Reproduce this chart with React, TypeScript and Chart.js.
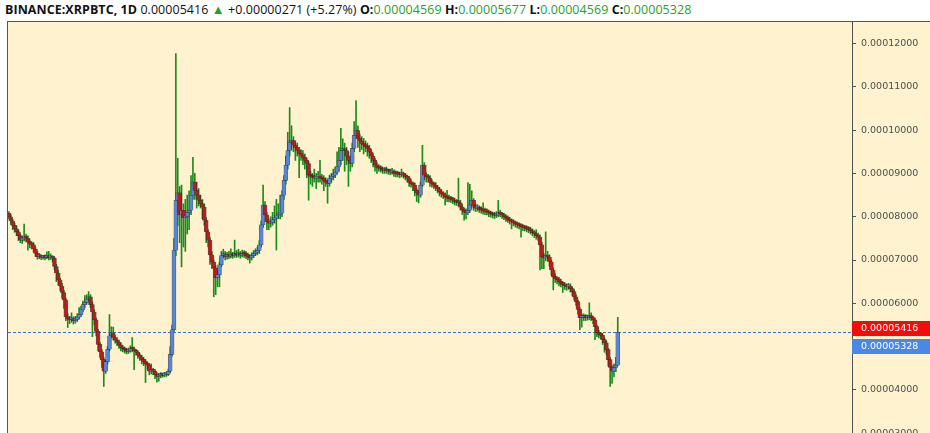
import React, { useEffect, useRef } from "react";
import { Chart, registerables } from "chart.js";

Chart.register(...registerables);

// Daily XRP/BTC candles, values in satoshi (1e-8 BTC)
const firstOpen = 8080;
const closes = [
  8000, 7900, 7800, 7720, 7650, 7560, 7460, 7480, 7530, 7500,
  7420, 7380, 7350, 7250, 7150, 7080, 7090, 7060, 7070, 7060,
  7080, 7050, 7060, 7040, 6850, 6700, 6540, 6400, 6250, 6080,
  5690, 5640, 5620, 5650, 5600, 5620, 5680, 5740, 5850, 5970,
  6020, 6100, 6150, 5970, 5800, 5620, 5350, 5050, 4880, 4700,
  4430, 4650, 4940, 5250, 5320, 5210, 5150, 5100, 5040, 4980,
  4950, 4920, 4890, 4900, 4950, 4940, 4900, 4870, 4800, 4760,
  4700, 4660, 4600, 4570, 4430, 4450, 4430, 4360, 4310, 4330,
  4350, 4340, 4360, 4360, 4430, 4820, 5390, 7230, 8380, 8550,
  8040, 8150, 7980, 8000, 8100, 8150, 8500, 8800, 8610, 8500,
  8380, 8300, 8220, 7920, 7650, 7460, 7120, 6950, 6820, 6590,
  6660, 6890, 7100, 7120, 7080, 7110, 7090, 7130, 7100, 7150,
  7120, 7140, 7110, 7150, 7130, 7100, 7080, 7050, 7100, 7150,
  7180, 7220, 7350, 7810, 8270, 8040, 7880, 7850, 7860, 7930,
  7970, 8040, 8060, 8080, 8500, 8840, 9190, 9530, 9720, 9760,
  9650, 9600, 9530, 9460, 9420, 9370, 9300, 9230, 8960, 8930,
  8910, 8890, 8920, 8940, 8890, 8870, 8840, 8800, 8770, 8890,
  8930, 8960, 9030, 9150, 9300, 9530, 9550, 9530, 9400, 9300,
  9230, 9580, 9880, 9990, 9810, 9750, 9690, 9650, 9620, 9580,
  9490, 9400, 9300, 9200, 9140, 9120, 9100, 9070, 9080, 9060,
  9050, 9030, 9040, 9000, 8990, 8980, 8970, 8980, 8960, 8920,
  8890, 8790, 8760, 8730, 8610, 8550, 8500, 8730, 9190, 8960,
  8920, 8890, 8790, 8760, 8730, 8680, 8640, 8570, 8530, 8500,
  8450, 8430, 8410, 8400, 8380, 8340, 8330, 8320, 8220, 8160,
  8110, 8090, 8150, 8270, 8380, 8250, 8200, 8200, 8170, 8150,
  8130, 8120, 8110, 8080, 8060, 8040, 8030, 8040, 8090, 8060,
  8040, 8000, 7970, 7940, 7900, 7880, 7860, 7830, 7810, 7790,
  7770, 7750, 7740, 7720, 7700, 7670, 7630, 7600, 7560, 7530,
  7350, 7070, 7050, 7100, 7070, 6960, 6770, 6610, 6570, 6540,
  6500, 6460, 6430, 6400, 6380, 6400, 6340, 6270, 6150, 6040,
  5860, 5670, 5670, 5690, 5670, 5670, 5710, 5670, 5620, 5460,
  5320, 5280, 5260, 5160, 5090, 4930, 4700, 4520, 4430, 4520,
  4569, 5328,
];
const highs = [
  8120, 8050, 7940, 7850, 7780, 7700, 7600, 7560, 7830, 7600,
  7560, 7470, 7420, 7400, 7290, 7200, 7150, 7120, 7110, 7120,
  7190, 7200, 7140, 7100, 7070, 6900, 6760, 6580, 6460, 6300,
  6120, 5760, 5700, 5780, 5690, 5700, 5760, 5900, 5930, 6050,
  6180, 6200, 6270, 6200, 6030, 5850, 5660, 5400, 5100, 4930,
  4750, 4700, 5000, 5740, 5460, 5450, 5260, 5200, 5150, 5090,
  5020, 4990, 4960, 4970, 5020, 5210, 4990, 4940, 4900, 4840,
  4800, 4750, 4700, 4640, 4610, 4600, 4500, 4470, 4400, 4380,
  4400, 4390, 4400, 4410, 4480, 5000, 5500, 7500, 11770, 9350,
  8700, 8730, 8300, 8400, 8500, 8600, 8950, 9370, 9000, 8800,
  8650, 8500, 8400, 8300, 7980, 7700, 7520, 7200, 7000, 6870,
  6750, 6950, 7200, 7250, 7200, 7180, 7200, 7260, 7180, 7460,
  7220, 7250, 7200, 7230, 7220, 7200, 7160, 7120, 7170, 7220,
  7260, 7300, 7450, 7900, 8730, 8350, 8100, 7950, 8000, 8100,
  8250, 8400, 8300, 8500, 8600, 8950, 9400, 9950, 10520, 10100,
  9850, 9750, 9700, 9600, 9550, 9530, 9450, 9350, 9280, 9050,
  9000, 9100, 9000, 9050, 9300, 8980, 8950, 8900, 8850, 8960,
  9000, 9100, 9150, 9500, 9600, 10040, 9800, 9700, 9600, 9500,
  9400, 9700, 10200, 10680, 10100, 9900, 9850, 9810, 9750, 9700,
  9650, 9550, 9450, 9350, 9250, 9200, 9180, 9150, 9140, 9150,
  9100, 9100, 9120, 9080, 9060, 9050, 9030, 9100, 9030, 9000,
  8960, 8930, 8850, 8800, 8780, 8650, 8600, 8800, 9650, 9250,
  9020, 8980, 8950, 8850, 8800, 8790, 8720, 8680, 8620, 8580,
  8550, 8610, 8500, 8470, 8450, 8430, 8400, 8890, 8380, 8280,
  8200, 8180, 8790, 8750, 8600, 8420, 8300, 8280, 8250, 8230,
  8320, 8200, 8180, 8150, 8130, 8110, 8100, 8120, 8380, 8150,
  8100, 8080, 8050, 8020, 7990, 7950, 7930, 7900, 7880, 7860,
  7840, 7820, 7800, 7790, 7770, 7750, 7720, 7680, 7700, 7620,
  7580, 7400, 7150, 7650, 7200, 7120, 7000, 6820, 6680, 6620,
  6600, 6560, 6500, 6480, 6450, 6460, 6450, 6380, 6320, 6200,
  6080, 5900, 5750, 5760, 5740, 5730, 6010, 5780, 5700, 5660,
  5500, 5380, 5330, 5300, 5200, 5130, 4960, 4750, 4560, 4600,
  4750, 5677,
];
const lows = [
  7950, 7820, 7700, 7640, 7560, 7450, 7400, 7380, 7440, 7420,
  7230, 7280, 7260, 7180, 7080, 7020, 7030, 7010, 7020, 7000,
  7030, 7000, 7010, 6960, 6780, 6500, 6420, 6300, 6120, 5880,
  5600, 5440, 5530, 5560, 5520, 5540, 5580, 5640, 5700, 5800,
  5900, 5980, 6060, 5900, 5230, 5500, 5250, 4900, 4750, 4520,
  4080, 4380, 4600, 4900, 5200, 5150, 5080, 5020, 4960, 4900,
  4880, 4850, 4830, 4840, 4870, 4880, 4470, 4800, 4730, 4680,
  4600, 4560, 4170, 4480, 4350, 4370, 4350, 4260, 4180, 4200,
  4280, 4290, 4300, 4310, 4330, 4400, 4780, 5350, 7100, 7800,
  7400, 6840, 7300, 7200, 7600, 7700, 8050, 8400, 8400, 8200,
  8250, 8200, 7950, 7800, 7400, 7300, 6900, 6800, 6150, 6200,
  6380, 6380, 6850, 7050, 7000, 7020, 7030, 7050, 7040, 7060,
  7060, 7070, 7040, 7070, 7060, 7030, 7000, 6930, 7000, 7060,
  7100, 7120, 7150, 7300, 7750, 7900, 7700, 7700, 7760, 7800,
  7850, 7230, 7950, 7950, 8000, 8400, 8750, 9100, 9400, 9550,
  9500, 9300, 9400, 8900, 9300, 9200, 9100, 8900, 8380, 8750,
  8700, 8800, 8650, 8800, 8800, 8750, 8600, 8700, 8310, 8700,
  8800, 8850, 8900, 8980, 9050, 9200, 9300, 9050, 9200, 8700,
  9050, 9150, 9500, 9800, 9600, 9500, 9550, 9450, 9500, 9400,
  9350, 9250, 9150, 9050, 9000, 9050, 9030, 9000, 9000, 9000,
  8980, 8970, 8980, 8930, 8920, 8920, 8900, 8920, 8890, 8850,
  8800, 8700, 8680, 8600, 8480, 8350, 8320, 8450, 8700, 8850,
  8800, 8800, 8700, 8680, 8650, 8600, 8550, 8480, 8450, 8420,
  8270, 8350, 8340, 8330, 8300, 8270, 8260, 8250, 8150, 8050,
  7920, 7950, 8050, 8100, 8200, 8150, 8120, 8130, 8100, 8080,
  8060, 8050, 8040, 8000, 7990, 7970, 7960, 7980, 8000, 8000,
  7960, 7930, 7890, 7870, 7830, 7720, 7790, 7760, 7740, 7720,
  7530, 7680, 7670, 7650, 7630, 7600, 7560, 7520, 7480, 7450,
  6770, 6800, 6800, 6980, 6990, 6850, 6650, 6310, 6480, 6450,
  6400, 6380, 6250, 6320, 6300, 6320, 6260, 6180, 6080, 5950,
  5750, 5390, 5450, 5600, 5600, 5610, 5620, 5600, 5530, 5160,
  5230, 5200, 5180, 5050, 4870, 4820, 4550, 4080, 4150, 4300,
  4420, 4569,
];
const yTickValues = [3000, 4000, 5000, 6000, 7000, 8000, 9000, 10000, 11000, 12000];
const lastPrice = 5416; // red axis label
const lastClose = 5328; // blue axis label + dashed line
const headerSymbol = "BINANCE:XRPBTC, 1D";
const headerPrice = "0.00005416";
const headerChange = "+0.00000271 (+5.27%)";
const headerOHLC: [string, string][] = [
  ["O:", "0.00004569"],
  ["H:", "0.00005677"],
  ["L:", "0.00004569"],
  ["C:", "0.00005328"],
];

const SAT = 1e-8;
const fmt = (v: number) => v.toFixed(8);

const UP = "#5686d6";
const DOWN = "#b81c1c";
const WICK = "#1f8a1c";
const AXIS = "#505050";

const overlay = {
  id: "overlay",
  beforeDatasetsDraw(chart: any) {
    const { ctx, chartArea, scales } = chart;
    const y = Math.round(scales.y.getPixelForValue(lastClose * SAT)) + 0.5;
    ctx.save();
    ctx.strokeStyle = "#3f6cc9";
    ctx.lineWidth = 1;
    ctx.setLineDash([3, 2]);
    ctx.beginPath();
    ctx.moveTo(chartArea.left, y);
    ctx.lineTo(chartArea.right, y);
    ctx.stroke();
    ctx.restore();
  },
  afterDraw(chart: any) {
    const { ctx, chartArea, scales, width } = chart;
    const h = 15;
    const yRed = scales.y.getPixelForValue(lastPrice * SAT);
    const redTop = Math.round(yRed - h / 2);
    const blueTop = redTop + h + 3;
    ctx.save();
    ctx.fillStyle = "#f20d0d";
    ctx.fillRect(chartArea.right, redTop, width - chartArea.right, h);
    ctx.fillStyle = "#4a88e6";
    ctx.fillRect(chartArea.right, blueTop, width - chartArea.right, h);
    ctx.fillStyle = "#ffffff";
    ctx.font = "9.5px 'DejaVu Sans'";
    ctx.textBaseline = "middle";
    ctx.textAlign = "left";
    ctx.fillText(fmt(lastPrice * SAT), chartArea.right + 9, redTop + h / 2 + 0.5);
    ctx.fillText(fmt(lastClose * SAT), chartArea.right + 9, blueTop + h / 2 + 0.5);
    ctx.restore();
  },
};

function CandleChart() {
  const ref = useRef<HTMLCanvasElement | null>(null);
  useEffect(() => {
    if (!ref.current) return;
    const opens = closes.map((c, i) => (i === 0 ? firstOpen : closes[i - 1]));
    const wickData = closes.map((_, i) => ({ x: i, y: [lows[i] * SAT, highs[i] * SAT] }));
    const bodyData = closes.map((c, i) => ({ x: i, y: [opens[i] * SAT, c * SAT] }));
    const bodyColors = closes.map((c, i) => (c >= opens[i] ? UP : DOWN));
    const chart = new Chart(ref.current, {
      type: "bar",
      data: {
        datasets: [
          {
            label: "body",
            data: bodyData as any,
            backgroundColor: bodyColors,
            borderColor: "rgba(45,35,35,0.75)",
            borderWidth: { left: 0.7, right: 0.7, top: 0.5, bottom: 0.5 },
            borderSkipped: false,
            barThickness: 4,
            minBarLength: 2,
            grouped: false,
            order: 0,
          } as any,
          {
            label: "wick",
            data: wickData as any,
            backgroundColor: WICK,
            borderWidth: 0,
            barThickness: 1,
            grouped: false,
            order: 1,
          } as any,
        ],
      },
      options: {
        animation: false,
        responsive: false,
        events: [],
        layout: { padding: 0 },
        plugins: { legend: { display: false }, tooltip: { enabled: false }, title: { display: false } },
        scales: {
          x: {
            type: "linear",
            display: false,
            min: -0.5,
            max: 444.5,
            offset: false,
          },
          y: {
            position: "right",
            min: 2335 * SAT,
            max: 12497 * SAT,
            border: { display: true, color: AXIS, width: 1 },
            grid: { drawOnChartArea: false, drawTicks: true, tickLength: 4, color: AXIS },
            ticks: {
              padding: 5,
              color: "#4d4d4d",
              font: { family: "'DejaVu Sans'", size: 9.5 },
              callback: (v: any) => fmt(Number(v)),
            },
            afterBuildTicks: (scale: any) => {
              scale.ticks = yTickValues.map((v) => ({ value: v * SAT }));
            },
            afterFit: (scale: any) => {
              scale.width = 78;
              scale.paddingTop = 0;
              scale.paddingBottom = 0;
            },
          } as any,
        },
      },
      plugins: [overlay],
    });
    return () => chart.destroy();
  }, []);
  return <canvas ref={ref} width={922} height={440} style={{ width: 922, height: 440, display: "block" }} />;
}

export default function App() {
  const green = "#27a127";
  return (
    <div
      style={{
        position: "fixed",
        left: 0,
        top: 0,
        width: 930,
        height: 433,
        background: "#ffffff",
        overflow: "hidden",
      }}
    >
      <div
        style={{
          position: "absolute",
          left: 5,
          top: 0,
          height: 21,
          lineHeight: "19px",
          whiteSpace: "nowrap",
          fontFamily: "'Open Sans', sans-serif",
          fontSize: 12.45,
          letterSpacing: "0.08px",
          color: "#111",
        }}
      >
        <b>{headerSymbol}</b> <span>{headerPrice}</span>{" "}
        <span style={{ color: green, fontSize: 13 }}>▲</span> <span>{headerChange}</span>
        {headerOHLC.map(([k, v]) => (
          <span key={k}>
            {" "}
            <b>{k}</b>
            <span style={{ color: green }}>{v}</span>
          </span>
        ))}
      </div>
      <div
        style={{
          position: "absolute",
          left: 7,
          top: 21,
          width: 922,
          height: 412,
          background: "#fff2cf",
          borderLeft: "1px solid #555",
          borderTop: "1px solid #555",
          overflow: "hidden",
        }}
      >
        <CandleChart />
      </div>
    </div>
  );
}
